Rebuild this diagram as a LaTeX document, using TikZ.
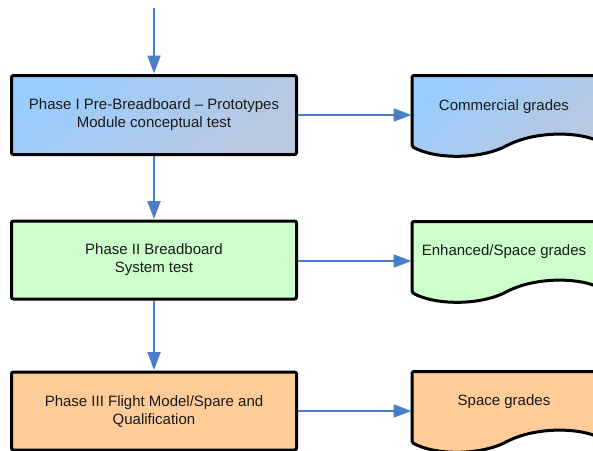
\documentclass[tikz,border=0pt]{standalone}
\usepackage{fontspec}
\setmainfont{Liberation Sans}
\usetikzlibrary{arrows.meta}
\definecolor{bluetop}{HTML}{99CCFF}
\definecolor{bluebot}{HTML}{BAC8DF}
\definecolor{greenfill}{HTML}{CCFFCC}
\definecolor{orangefill}{HTML}{FFCC99}
\definecolor{arrowblue}{HTML}{4A7EC6}
\definecolor{txt}{HTML}{1A1A1A}
\newcommand\docshape[2]{% #1 fill options, #2 top y
  \draw[docline,#1] (412,#2) -- (597,#2) -- (597,#2+65)
    .. controls (575,#2+56) and (535,#2+56) .. (507,#2+70)
    .. controls (480,#2+84) and (435,#2+84) .. (412,#2+71) -- cycle;}
\begin{document}
\begin{tikzpicture}[x=1pt,y=-1pt,
  phase/.style={draw=black, line width=3pt, rounded corners=2pt,
    minimum width=285pt, inner sep=0pt, align=center, text=txt,
    font=\fontsize{15}{18}\selectfont},
  docline/.style={draw=black, line width=3pt, rounded corners=1.5pt},
  doctext/.style={inner sep=0pt, text=txt, font=\fontsize{15}{18}\selectfont},
  bluegrad/.style={top color=bluetop, bottom color=bluebot, shading angle=40},
  conn/.style={draw=arrowblue, line width=2pt,
    -{Triangle[length=18pt,width=13pt]}, shorten >=0.5pt}]
\clip (0,0) rectangle (593,450);
\fill[white] (0,0) rectangle (593,450);

% phase boxes
\node[phase, bluegrad, minimum height=79pt] (box1) at (154,115)
  {\raisebox{-1pt}{\parbox{285pt}{\centering Phase I Pre-Breadboard -- Prototypes\\Module conceptual test}}};
\node[phase, fill=greenfill, minimum height=78pt] (box2) at (154,260)
  {\raisebox{-1pt}{\parbox{285pt}{\centering Phase II Breadboard\\System test}}};
\node[phase, fill=orangefill, minimum height=78pt] (box3) at (154,411)
  {\raisebox{-1pt}{\parbox{285pt}{\centering Phase III Flight Model/Spare and\\Qualification}}};

% document shapes
\docshape{bluegrad}{75.5}
\docshape{fill=greenfill}{221.5}
\docshape{fill=orangefill}{371.5}
\node[doctext] (doc1) at (504,107) {Commercial grades};
\node[doctext] (doc2) at (504,252) {Enhanced/Space grades};
\node[doctext] (doc3) at (504,402) {Space grades};

% connector end points
\coordinate (start) at (154,8);
\coordinate (in1) at (412,115);
\coordinate (in2) at (412,261);
\coordinate (in3) at (412,411);

% connectors
\draw[conn] (start) -- (box1.north);
\draw[conn] (box1.south) -- (box2.north);
\draw[conn] (box2.south) -- (box3.north);
\draw[conn] (box1.east |- in1) -- (in1);
\draw[conn] (box2.east |- in2) -- (in2);
\draw[conn] (box3.east |- in3) -- (in3);
\end{tikzpicture}
\end{document}
